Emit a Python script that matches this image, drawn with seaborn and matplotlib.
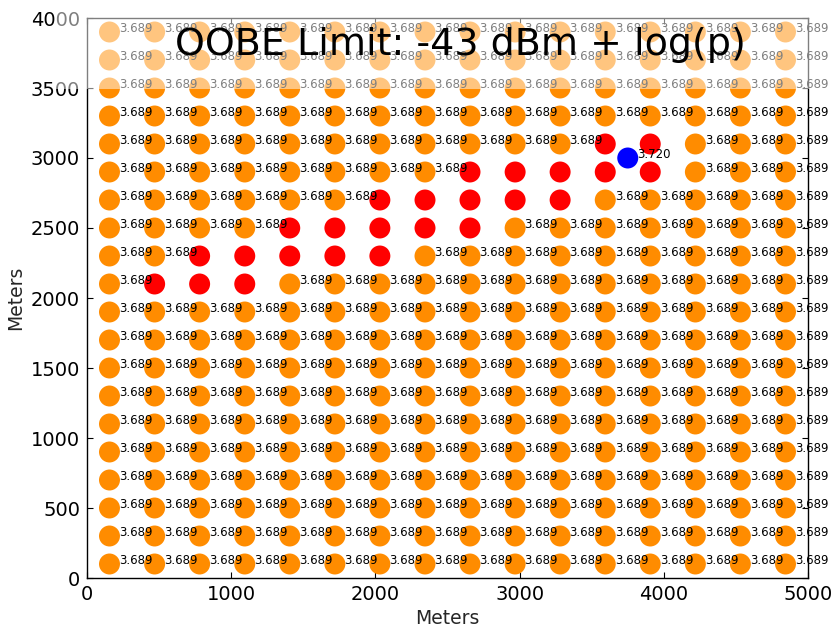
import itertools
import matplotlib
matplotlib.use("Agg")
import matplotlib.pyplot as plt
from matplotlib.patches import Rectangle
import pandas as pd
import seaborn as sns

# ---- data ----
grid_x = [156, 469, 781, 1094, 1406, 1719, 2031, 2344, 2656, 2969, 3281, 3594, 3906, 4219, 4531, 4844]
grid_y = [100, 300, 500, 700, 900, 1100, 1300, 1500, 1700, 1900,
          2100, 2300, 2500, 2700, 2900, 3100, 3300, 3500, 3700, 3900]
grid_value = 3.689

# cells that exceed the limit (red), per row
red_x_2100 = [469, 781, 1094]
red_x_2300 = [781, 1094, 1406, 1719, 2031]
red_x_2500 = [1406, 1719, 2031, 2344, 2656]
red_x_2700 = [2031, 2344, 2656, 2969, 3281]
red_x_2900 = [2656, 2969, 3281, 3594, 3906]
red_x_3100 = [3594, 3906]
red_rows = {2100: red_x_2100, 2300: red_x_2300, 2500: red_x_2500,
            2700: red_x_2700, 2900: red_x_2900, 3100: red_x_3100}

peak_x = [3750]
peak_y = [3000]
peak_value = [3.720]

title = "OOBE Limit: -43 dBm + log(p)"
x_ticks = [0, 1000, 2000, 3000, 4000, 5000]
y_ticks = [0, 500, 1000, 1500, 2000, 2500, 3000, 3500, 4000]

# ---- build table ----
red_set = {(x, y) for y, xs in red_rows.items() for x in xs}
rows = []
for x, y in itertools.product(grid_x, grid_y):
    status = "fail" if (x, y) in red_set else "ok"
    rows.append({"x": x, "y": y, "value": grid_value, "status": status})
for x, y, v in zip(peak_x, peak_y, peak_value):
    rows.append({"x": x, "y": y, "value": v, "status": "peak"})
df = pd.DataFrame(rows)

# ---- plot ----
sns.set_style("ticks")
plt.rcParams["font.family"] = ["DejaVu Sans"]

W, H = 835, 627
fig = plt.figure(figsize=(W / 100, H / 100), dpi=100)
ax = fig.add_axes([87 / W, 1 - 578 / H, (808 - 87) / W, (578 - 18) / H])

palette = {"ok": "#FF8C00", "fail": "#FF0000", "peak": "#0000FF"}
sns.scatterplot(data=df, x="x", y="y", hue="status", palette=palette,
                s=228, linewidth=0, legend=False, ax=ax, zorder=2)

for _, r in df.iterrows():
    if r["status"] == "fail":
        continue
    ax.text(r["x"] + 66, r["y"], f"{r['value']:.3f}", fontsize=8.5,
            color="black", ha="left", va="baseline", clip_on=False, zorder=3)

ax.set_xlim(0, 5000)
ax.set_ylim(0, 4000)
ax.set_xticks(x_ticks)
ax.set_yticks(y_ticks)
ax.tick_params(direction="in", top=True, right=True, length=4, width=0.8,
               labelsize=14, colors="black", pad=5)
for sp in ax.spines.values():
    sp.set_visible(True)
    sp.set_color("black")
    sp.set_linewidth(1.0)
ax.set_xlabel("Meters", fontsize=13.5, labelpad=4)
ax.set_ylabel("Meters", fontsize=13.5, labelpad=4)

# translucent white band over the top strip
fade = Rectangle((56 / W, 1 - 88.5 / H), 1 - 56 / W, 88.5 / H,
                 transform=fig.transFigure, facecolor="white", alpha=0.5,
                 edgecolor="none", zorder=10)
fig.add_artist(fade)

fig.text(460.5 / W, 1 - 55 / H, title, ha="center", va="baseline",
         fontsize=27.4, color="black", zorder=20)

fig.savefig("out.png", dpi=100)
